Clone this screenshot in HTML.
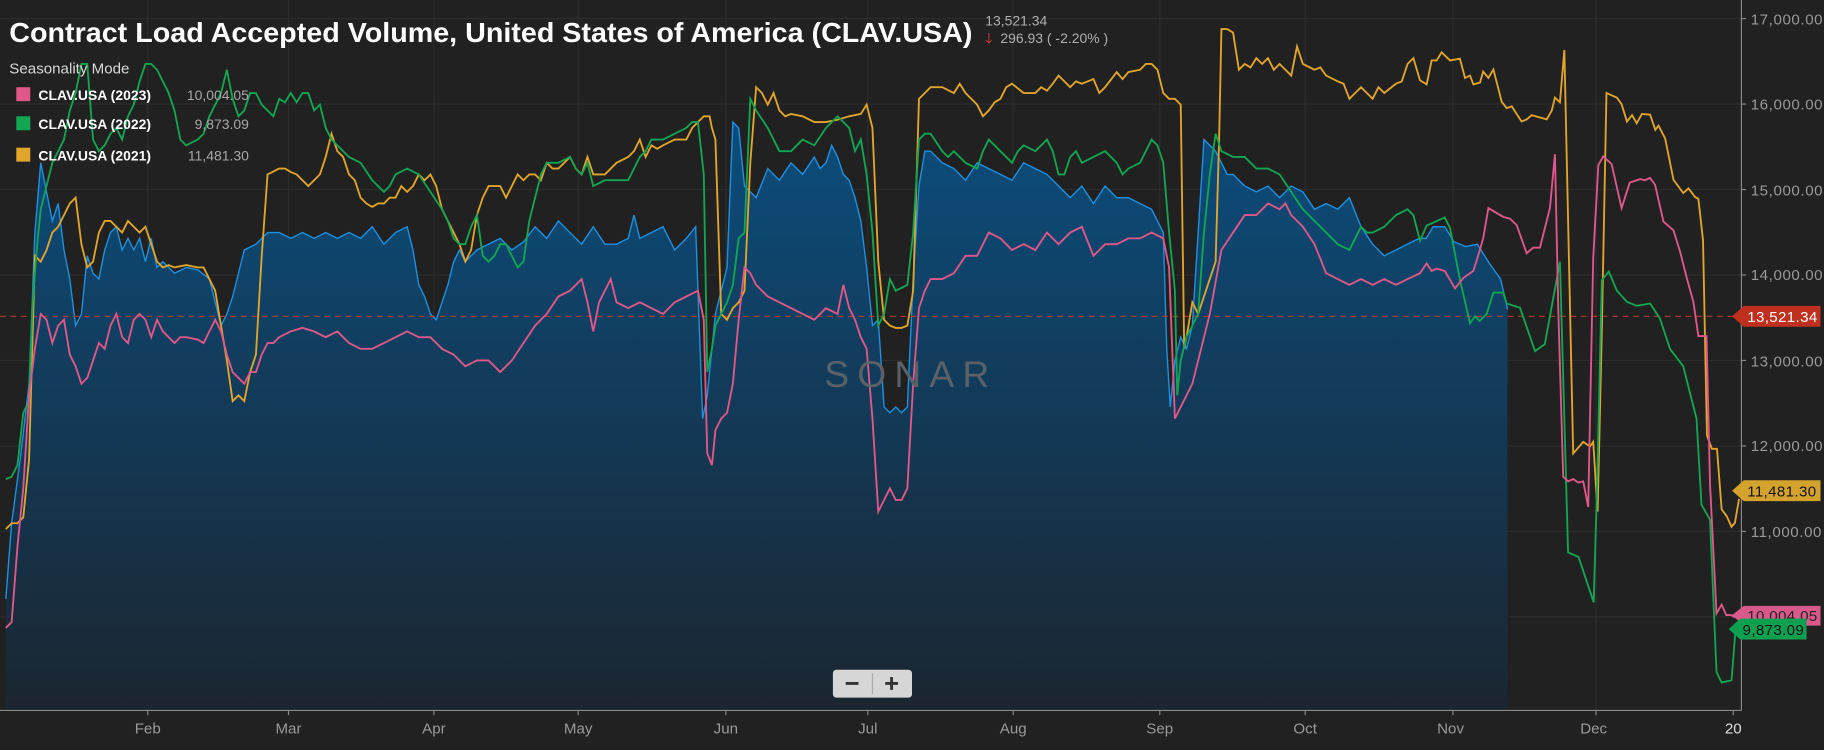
<!DOCTYPE html>
<html><head><meta charset="utf-8"><style>
html,body{margin:0;padding:0;background:#212121;}
svg{display:block;}
text{font-family:"Liberation Sans",sans-serif;}
</style></head><body>
<svg width="1824" height="750" viewBox="0 0 1568 645" preserveAspectRatio="none" xmlns="http://www.w3.org/2000/svg">
<defs>
<linearGradient id="bf" x1="0" y1="0" x2="0" y2="1">
<stop offset="0" stop-color="#0b4d7c"/><stop offset="1" stop-color="#1b2631"/>
</linearGradient>
</defs>
<rect width="1568" height="645" fill="#212121"/>
<g stroke="#2d2d2d" stroke-width="1">
<line x1="0" x2="1497" y1="16" y2="16"/><line x1="0" x2="1497" y1="89.5" y2="89.5"/><line x1="0" x2="1497" y1="163" y2="163"/><line x1="0" x2="1497" y1="236.5" y2="236.5"/><line x1="0" x2="1497" y1="310" y2="310"/><line x1="0" x2="1497" y1="383.5" y2="383.5"/><line x1="0" x2="1497" y1="457" y2="457"/><line x1="0" x2="1497" y1="530.5" y2="530.5"/>
<line x1="127" x2="127" y1="0" y2="610"/><line x1="248" x2="248" y1="0" y2="610"/><line x1="373" x2="373" y1="0" y2="610"/><line x1="497" x2="497" y1="0" y2="610"/><line x1="624" x2="624" y1="0" y2="610"/><line x1="746" x2="746" y1="0" y2="610"/><line x1="871" x2="871" y1="0" y2="610"/><line x1="997" x2="997" y1="0" y2="610"/><line x1="1122" x2="1122" y1="0" y2="610"/><line x1="1249" x2="1249" y1="0" y2="610"/><line x1="1372" x2="1372" y1="0" y2="610"/>
</g>
<path fill="url(#bf)" stroke="none" d="M5,515 L10,450 18,390 25,330 30,200 35,140 40,165 45,190 50,175 55,215 60,240 65,280 70,270 75,220 80,235 85,240 90,215 95,200 100,195 105,215 110,205 115,215 120,205 125,225 130,205 135,230 140,225 145,230 150,235 160,230 170,232 180,240 185,260 190,280 195,270 200,255 205,235 210,215 220,210 230,200 240,200 250,205 260,200 270,205 280,200 290,205 300,200 310,205 320,195 330,210 340,200 350,195 355,215 360,245 365,255 370,270 375,275 380,260 385,245 390,225 395,215 400,225 410,215 420,210 430,205 440,215 450,208 460,195 470,205 480,190 490,200 500,210 510,195 520,210 530,210 540,205 545,185 550,205 560,200 570,195 580,215 590,205 598,195 600,250 604,360 608,340 612,300 615,270 620,250 625,230 630,105 635,110 640,160 650,170 660,145 670,155 680,140 690,150 700,135 705,145 710,140 715,125 720,135 725,150 730,155 735,170 740,190 745,230 750,280 755,275 760,350 765,355 770,350 775,355 780,350 785,240 790,160 795,130 800,130 810,140 820,145 830,155 840,140 850,145 860,150 870,155 880,140 890,145 900,150 910,160 920,170 930,160 940,175 950,160 960,170 970,170 980,175 990,180 995,190 1000,200 1003,300 1006,350 1010,310 1015,290 1020,300 1025,280 1030,200 1035,120 1040,125 1045,130 1050,140 1055,150 1060,150 1070,160 1080,165 1090,160 1100,170 1110,160 1120,165 1130,180 1140,175 1150,180 1160,170 1170,195 1180,210 1190,220 1200,215 1210,210 1220,205 1226,205 1232,195 1242,195 1250,208 1260,212 1270,210 1280,226 1290,240 1296,266 L1296,610 L5,610 Z"/>
<polyline fill="none" stroke="#1e90e0" stroke-width="1.2" points="5,515 10,450 18,390 25,330 30,200 35,140 40,165 45,190 50,175 55,215 60,240 65,280 70,270 75,220 80,235 85,240 90,215 95,200 100,195 105,215 110,205 115,215 120,205 125,225 130,205 135,230 140,225 145,230 150,235 160,230 170,232 180,240 185,260 190,280 195,270 200,255 205,235 210,215 220,210 230,200 240,200 250,205 260,200 270,205 280,200 290,205 300,200 310,205 320,195 330,210 340,200 350,195 355,215 360,245 365,255 370,270 375,275 380,260 385,245 390,225 395,215 400,225 410,215 420,210 430,205 440,215 450,208 460,195 470,205 480,190 490,200 500,210 510,195 520,210 530,210 540,205 545,185 550,205 560,200 570,195 580,215 590,205 598,195 600,250 604,360 608,340 612,300 615,270 620,250 625,230 630,105 635,110 640,160 650,170 660,145 670,155 680,140 690,150 700,135 705,145 710,140 715,125 720,135 725,150 730,155 735,170 740,190 745,230 750,280 755,275 760,350 765,355 770,350 775,355 780,350 785,240 790,160 795,130 800,130 810,140 820,145 830,155 840,140 850,145 860,150 870,155 880,140 890,145 900,150 910,160 920,170 930,160 940,175 950,160 960,170 970,170 980,175 990,180 995,190 1000,200 1003,300 1006,350 1010,310 1015,290 1020,300 1025,280 1030,200 1035,120 1040,125 1045,130 1050,140 1055,150 1060,150 1070,160 1080,165 1090,160 1100,170 1110,160 1120,165 1130,180 1140,175 1150,180 1160,170 1170,195 1180,210 1190,220 1200,215 1210,210 1220,205 1226,205 1232,195 1242,195 1250,208 1260,212 1270,210 1280,226 1290,240 1296,266"/>
<line x1="0" x2="1490" y1="272" y2="272" stroke="#b03a2e" stroke-width="1" stroke-dasharray="5,4"/>
<polyline fill="none" stroke="#e0a52a" stroke-width="1.6" points="5,455 10,450 15,450 20,445 25,395 30,220 35,225 40,215 45,200 50,195 55,185 60,175 65,170 70,210 75,230 80,225 85,200 90,190 95,190 100,195 105,200 110,190 115,195 120,200 125,195 130,210 135,225 140,230 145,228 150,230 160,228 170,230 175,230 180,240 185,250 190,280 195,310 200,345 205,340 210,345 215,320 220,305 225,220 230,150 240,145 245,145 250,148 255,150 260,155 265,160 270,155 275,150 280,135 285,115 290,130 295,135 300,150 305,155 310,170 315,175 320,178 325,175 330,175 335,170 340,170 345,160 350,165 355,160 360,150 365,155 370,150 375,160 380,180 385,190 390,200 395,210 400,225 405,215 410,185 415,170 420,160 425,160 430,160 435,170 440,160 445,150 450,155 455,150 460,150 465,155 470,140 475,145 480,145 485,140 490,135 495,145 500,150 505,135 510,150 515,150 520,150 530,140 540,135 545,130 550,120 555,135 560,125 565,128 570,125 580,120 590,120 595,110 600,105 605,100 610,100 612,110 615,120 620,270 625,275 630,265 635,260 640,250 645,140 650,75 655,80 660,90 665,80 670,95 675,100 680,98 690,100 700,105 710,105 720,103 730,100 740,98 745,90 750,110 755,225 760,275 765,280 770,282 775,282 780,280 785,250 790,85 795,80 800,75 810,75 820,80 825,72 830,80 840,90 845,100 850,95 855,88 860,85 865,75 870,72 880,80 890,80 895,75 900,78 905,72 910,65 915,70 920,75 925,70 930,72 940,68 945,80 950,75 960,62 965,68 970,62 980,60 985,55 990,55 995,60 1000,80 1005,85 1010,85 1015,90 1018,300 1020,290 1025,260 1030,270 1040,240 1045,225 1048,120 1050,25 1055,25 1060,28 1065,60 1070,55 1075,58 1080,50 1085,55 1090,50 1095,60 1100,55 1105,60 1110,65 1115,40 1120,55 1130,60 1135,58 1140,65 1150,70 1155,72 1160,85 1165,80 1170,75 1175,80 1180,85 1185,75 1190,80 1200,72 1205,70 1210,55 1215,50 1220.7,69 1226.4,72.6 1230.7,52 1235,52 1239.3,45 1246.5,52 1255,50.5 1259.4,67 1263.7,65 1266.6,72.6 1272.3,71 1275,61.6 1279.5,67 1283.8,59.8 1291,87.7 1295.2,93 1299.6,91.5 1308,104.5 1312.4,102.7 1316.7,99 1329.6,102.7 1334,95 1336.7,84 1341,88 1344.8,43 1352.4,390 1361,380 1366.8,384 1369.6,380 1373.4,440 1377,285 1381,80 1390,84 1394,89.6 1398.6,104.5 1403,99 1407,106 1411.5,98 1418.5,98.6 1423,111.7 1425.7,108 1431.4,119 1438.6,154.6 1447,166 1451.5,162 1457.2,169.5 1460,171 1464,206.6 1467.4,374.5 1471.6,386 1476,386 1480,438 1484.4,444 1488.5,453 1491.4,449.6 1495,429"/>
<polyline fill="none" stroke="#12a552" stroke-width="1.6" points="5,412 10,410 15,400 20,355 25,345 28,260 32,210 35,180 40,160 45,140 50,130 55,120 60,95 65,80 70,55 75,55 80,120 85,130 90,125 95,115 100,110 105,120 110,100 115,90 120,70 125,55 130,55 135,60 140,70 145,80 150,95 155,120 160,125 170,120 175,115 180,100 185,90 190,80 195,60 200,85 205,100 210,95 215,80 220,80 225,90 230,95 235,100 240,85 245,88 250,80 255,88 260,80 265,80 270,95 275,90 280,110 285,120 290,125 300,135 310,140 320,155 330,165 335,160 340,150 350,145 360,150 370,165 380,180 385,190 390,205 395,210 400,210 405,195 410,185 415,220 420,225 425,220 430,210 435,210 440,220 445,230 450,225 455,190 460,170 465,150 470,140 480,140 490,135 495,145 500,150 505,140 510,160 520,155 530,155 540,155 545,145 550,135 555,130 560,120 570,120 580,115 590,110 595,105 600,105 605,150 608,320 612,300 615,280 620,270 625,260 630,245 635,205 640,200 645,85 650,95 660,110 670,130 680,130 690,120 700,125 710,110 720,100 730,110 735,130 740,120 745,150 750,200 755,280 760,270 765,240 770,250 780,245 785,200 790,120 795,115 800,115 810,130 815,135 820,130 830,140 840,145 845,130 850,120 855,125 860,130 870,140 875,130 880,125 890,130 900,120 905,130 910,150 915,150 920,135 925,130 930,140 940,135 950,130 960,140 965,150 970,145 980,140 985,130 990,120 995,125 1000,140 1005,200 1010,250 1012,340 1015,310 1020,290 1025,280 1030,270 1035,200 1040,150 1045,115 1050,130 1060,135 1070,135 1080,145 1090,145 1100,150 1110,165 1120,180 1130,190 1140,200 1150,210 1160,215 1165,205 1170,195 1175,200 1180,200 1190,195 1200,185 1210,180 1215,185 1220.7,207 1226.4,194 1242,187 1246.5,196 1255,240.5 1263.7,278 1268,272 1272,276 1278,270 1283.8,251.6 1292.4,251.6 1295.2,261 1306.7,264.7 1319.6,302 1328,296 1341,225 1348,475 1357,479 1370,518 1373,415.8 1377,241 1383,233.5 1390,250 1398.6,259.6 1407,263 1418.5,261 1427,274 1435.6,300 1447,315 1458.4,360 1462.7,434 1470,447 1475.6,578 1480,587 1488.5,585 1492,541"/>
<polyline fill="none" stroke="#e0578a" stroke-width="1.6" points="5,540 10,535 15,470 20,420 25,340 30,300 35,270 40,275 45,295 50,280 55,275 60,305 65,315 70,330 75,325 80,310 85,295 90,300 95,280 100,270 105,290 110,295 115,275 120,270 125,275 130,290 135,275 140,285 145,290 150,295 155,290 160,290 170,292 175,295 180,285 185,275 190,285 195,305 200,320 205,325 210,330 215,320 220,320 225,305 230,295 235,295 240,290 250,285 260,282 270,285 280,290 290,285 300,295 310,300 320,300 330,295 340,290 350,285 360,290 370,290 380,300 390,305 400,315 410,310 420,310 430,320 440,310 450,295 460,280 470,270 480,255 490,250 500,240 505,260 510,285 515,260 520,250 525,240 530,260 540,265 550,260 560,265 570,270 580,260 590,255 600,250 605,275 608,390 612,400 615,370 620,360 625,355 630,330 635,275 640,230 645,235 650,245 660,255 670,260 680,265 690,270 700,275 710,265 720,270 725,245 730,265 735,275 740,290 745,300 750,360 755,440 760,430 765,420 770,430 775,430 780,420 785,330 790,265 795,250 800,240 810,240 820,235 830,220 840,220 850,200 860,205 870,215 880,210 890,215 900,200 910,210 920,200 930,195 940,220 950,210 960,210 970,205 980,205 990,200 1000,205 1005,230 1010,360 1015,350 1020,340 1025,330 1030,310 1040,270 1050,215 1060,200 1070,185 1080,185 1090,175 1100,180 1105,175 1110,185 1120,195 1130,210 1140,235 1150,240 1160,245 1170,240 1180,245 1190,240 1200,245 1210,240 1220.7,235 1226.4,226.5 1230.7,233 1235,231 1242,233 1250.8,248 1258,239 1266.6,233 1272.3,214.6 1275,205 1279.5,179 1292.4,186.6 1298,188 1303.8,193.6 1312.4,217.8 1318,213 1323.8,213 1332.4,179 1336.7,132.6 1339.6,266.7 1343.8,410 1348,414 1352.4,412 1356.7,415 1361,414 1365.3,436 1369.6,222 1374,142 1378.2,134.5 1385.4,141 1394,179 1401,157 1410,154 1414,155 1418.5,153 1422.8,159 1430,190.6 1438.6,198 1444.3,216.5 1450,239 1455.7,259.6 1460,289 1467,289 1470,415.8 1475.6,527.6 1480,520 1484,529 1488.5,529 1491.4,531"/>
<text x="783" y="333" text-anchor="middle" font-size="32" fill="#5c6167" letter-spacing="7">SONAR</text>
<g stroke="#8a8a8a" stroke-width="1"><line x1="1497" x2="1497" y1="0" y2="611"/><line x1="0" x2="1497" y1="611" y2="611"/>
<line x1="127" x2="127" y1="611" y2="615"/><line x1="248" x2="248" y1="611" y2="615"/><line x1="373" x2="373" y1="611" y2="615"/><line x1="497" x2="497" y1="611" y2="615"/><line x1="624" x2="624" y1="611" y2="615"/><line x1="746" x2="746" y1="611" y2="615"/><line x1="871" x2="871" y1="611" y2="615"/><line x1="997" x2="997" y1="611" y2="615"/><line x1="1122" x2="1122" y1="611" y2="615"/><line x1="1249" x2="1249" y1="611" y2="615"/><line x1="1372" x2="1372" y1="611" y2="615"/><line x1="1490" x2="1490" y1="611" y2="615"/>
<line x1="1497" x2="1501" y1="16" y2="16"/><line x1="1497" x2="1501" y1="89.5" y2="89.5"/><line x1="1497" x2="1501" y1="163" y2="163"/><line x1="1497" x2="1501" y1="236.5" y2="236.5"/><line x1="1497" x2="1501" y1="310" y2="310"/><line x1="1497" x2="1501" y1="383.5" y2="383.5"/><line x1="1497" x2="1501" y1="457" y2="457"/></g>
<g font-size="13" fill="#9a9a9a" text-anchor="middle">
<text x="127" y="631">Feb</text><text x="248" y="631">Mar</text><text x="373" y="631">Apr</text><text x="497" y="631">May</text><text x="624" y="631">Jun</text><text x="746" y="631">Jul</text><text x="871" y="631">Aug</text><text x="997" y="631">Sep</text><text x="1122" y="631">Oct</text><text x="1247" y="631">Nov</text><text x="1370" y="631">Dec</text><text x="1490" y="631" fill="#e0e0e0">20</text>
</g>
<g font-size="13" fill="#9a9a9a" letter-spacing="0.5">
<text x="1505" y="21">17,000.00</text><text x="1505" y="94">16,000.00</text><text x="1505" y="168">15,000.00</text><text x="1505" y="241">14,000.00</text><text x="1505" y="315">13,000.00</text><text x="1505" y="388">12,000.00</text><text x="1505" y="462">11,000.00</text>
</g>
<path d="M1489,272 L1499,263 L1565,263 L1565,281 L1499,281 Z" fill="#c0301f"/>
<text x="1502" y="277" font-size="13" fill="#fff" letter-spacing="0.3">13,521.34</text>
<path d="M1489,422 L1499,413 L1565,413 L1565,431 L1499,431 Z" fill="#d4a32e"/>
<text x="1502" y="427" font-size="13" fill="#111" letter-spacing="0.3">11,481.30</text>
<path d="M1489,529 L1499,521 L1565,521 L1565,538 L1499,538 Z" fill="#d85a8a"/>
<text x="1502" y="534" font-size="13" fill="#222" letter-spacing="0.3">10,004.05</text>
<path d="M1486,541 L1496,532 L1553,532 L1553,550 L1496,550 Z" fill="#0aa050"/>
<text x="1498" y="546" font-size="13" fill="#111" letter-spacing="0.3">9,873.09</text>
<text x="8" y="36" font-size="24" font-weight="bold" fill="#ffffff" textLength="828" lengthAdjust="spacingAndGlyphs">Contract Load Accepted Volume, United States of America (CLAV.USA)</text>
<text x="847" y="22" font-size="12" fill="#b0b0b0">13,521.34</text>
<text x="847" y="37" font-size="12" fill="#e04040">🡓</text>
<text x="860" y="37" font-size="12" fill="#b0b0b0">296.93 ( -2.20% )</text>
<text x="8" y="63" font-size="13" fill="#d8d8d8">Seasonality Mode</text>
<rect x="14" y="75" width="12" height="12" fill="#e0578a"/>
<text x="33" y="86" font-size="12" font-weight="bold" fill="#fff">CLAV.USA (2023)</text>
<text x="214" y="86" font-size="12" fill="#a8a8a8" text-anchor="end">10,004.05</text>
<rect x="14" y="100" width="12" height="12" fill="#12a552"/>
<text x="33" y="111" font-size="12" font-weight="bold" fill="#fff">CLAV.USA (2022)</text>
<text x="214" y="111" font-size="12" fill="#a8a8a8" text-anchor="end">9,873.09</text>
<rect x="14" y="127" width="12" height="12" fill="#e0a52a"/>
<text x="33" y="138" font-size="12" font-weight="bold" fill="#fff">CLAV.USA (2021)</text>
<text x="214" y="138" font-size="12" fill="#a8a8a8" text-anchor="end">11,481.30</text>
<rect x="716" y="576" width="68" height="24" rx="3" fill="#d6d6d6"/>
<line x1="750" x2="750" y1="579" y2="597" stroke="#aaa"/>
<rect x="727" y="586.5" width="11" height="2.5" fill="#333"/>
<rect x="761" y="586.5" width="11" height="2.5" fill="#333"/>
<rect x="765.2" y="582.3" width="2.5" height="11" fill="#333"/>
</svg>
</body></html>
